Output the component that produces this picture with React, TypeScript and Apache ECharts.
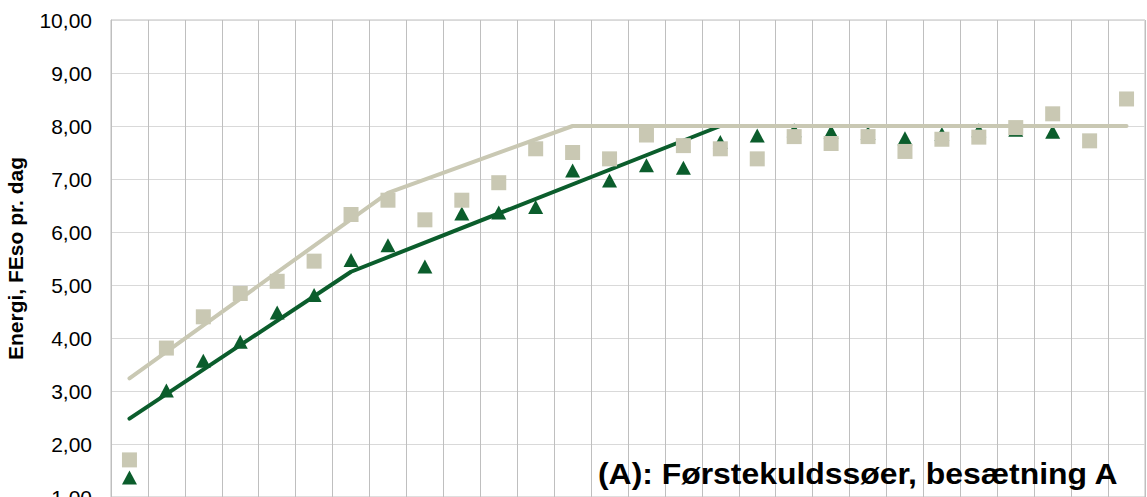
import React, { useEffect, useRef } from "react";
import * as echarts from "echarts";

const categories = ["1","2","3","4","5","6","7","8","9","10","11","12","13","14","15","16","17","18","19","20","21","22","23","24","25","26","27","28"];

const squareValues = [1.70, 3.81, 4.40, 4.84, 5.07, 5.45, 6.33, 6.60, 6.23, 6.60, 6.93, 7.57, 7.50, 7.38, 7.83, 7.63, 7.57, 7.38, 7.80, 7.67, 7.80, 7.52, 7.75, 7.79, 7.97, 8.23, 7.72, 8.51];

const triangleValues = [1.37, 3.01, 3.57, 3.93, 4.48, 4.81, 5.47, 5.75, 5.35, 6.35, 6.37, 6.47, 7.16, 6.97, 7.26, 7.21, 7.70, 7.82, 7.92, 7.89, 7.87, 7.77, 7.85, 7.92, 7.93, 7.89, null, null];

// norm line (light): breakpoints only, joined with straight segments
const lightNorm = [3.24, null, null, null, null, null, null, 6.74, null, null, null, null, 8.0, null, null, null, null, null, null, null, null, null, null, null, null, null, null, 8.0];

// norm line (dark): breakpoints only
const darkNorm = [2.48, null, null, null, null, null, 5.25, null, null, null, null, null, null, null, null, null, 8.0, null, null, null, null, null, null, null, null, null, null, null];

const yTicks = { min: 1, max: 10, interval: 1 };

const yAxisName = "Energi, FEso pr. dag";
const panelTitle = "(A): Førstekuldssøer, besætning A";

const LIGHT = "#C9C8B3";
const DARK = "#0B5D2C";

export default function App() {
  const ref = useRef<HTMLDivElement>(null);
  useEffect(() => {
    if (!ref.current) return;
    const chart = echarts.init(ref.current, null, { renderer: "svg" });
    chart.setOption({
      animation: false,
      backgroundColor: "#ffffff",
      grid: {
        left: 111,
        right: 2,
        top: 20,
        bottom: 0,
        containLabel: false,
        outerBoundsMode: "none",
        show: true,
        borderColor: "#BFBFBF",
        borderWidth: 1,
      },
      xAxis: {
        type: "category",
        data: categories,
        boundaryGap: true,
        axisLabel: { show: false },
        axisTick: { show: false },
        axisLine: { show: false },
        splitLine: { show: true, interval: 0, lineStyle: { color: "#BFBFBF", width: 1 } },
      },
      yAxis: {
        type: "value",
        min: yTicks.min,
        max: yTicks.max,
        interval: yTicks.interval,
        name: yAxisName,
        nameLocation: "middle",
        nameGap: 85,
        nameTextStyle: {
          fontFamily: "Liberation Sans, Arial, sans-serif",
          fontWeight: "bold",
          fontSize: 21,
          color: "#000",
        },
        axisLine: { show: true, lineStyle: { color: "#BFBFBF" } },
        axisTick: { show: false },
        axisLabel: {
          margin: 19,
          fontFamily: "Liberation Sans, Arial, sans-serif",
          fontSize: 21,
          color: "#000",
          formatter: (v: number) => v.toFixed(2).replace(".", ","),
        },
        splitLine: { show: true, lineStyle: { color: "#D9D9D9", width: 1 } },
      },
      series: [
        {
          type: "line",
          data: darkNorm,
          connectNulls: true,
          showSymbol: false,
          symbol: "none",
          lineStyle: { color: DARK, width: 4, cap: "round", join: "round" },
          z: 1,
        },
        {
          type: "scatter",
          data: triangleValues,
          symbol: "triangle",
          symbolSize: [15, 14],
          itemStyle: { color: DARK, opacity: 1 },
          z: 2,
        },
        {
          type: "line",
          data: lightNorm,
          connectNulls: true,
          showSymbol: false,
          symbol: "none",
          lineStyle: { color: LIGHT, width: 4, cap: "round", join: "round" },
          z: 3,
        },
        {
          type: "scatter",
          data: squareValues,
          symbol: "rect",
          symbolSize: 15,
          itemStyle: { color: LIGHT, opacity: 1 },
          z: 4,
        },
      ],
      graphic: [
        {
          type: "text",
          x: 598,
          y: 474,
          scaleX: 1.1,
          z: 10,
          style: {
            x: 0,
            y: 0,
            text: panelTitle,
            fontFamily: "Liberation Sans, Arial, sans-serif",
            fontWeight: "bold",
            fontSize: 29,
            fill: "#000",
            textAlign: "left",
            textVerticalAlign: "middle",
          },
        },
      ],
    });
    return () => chart.dispose();
  }, []);
  return (
    <div
      ref={ref}
      style={{ position: "fixed", left: 0, top: 0, width: 1147, height: 497 }}
    />
  );
}
